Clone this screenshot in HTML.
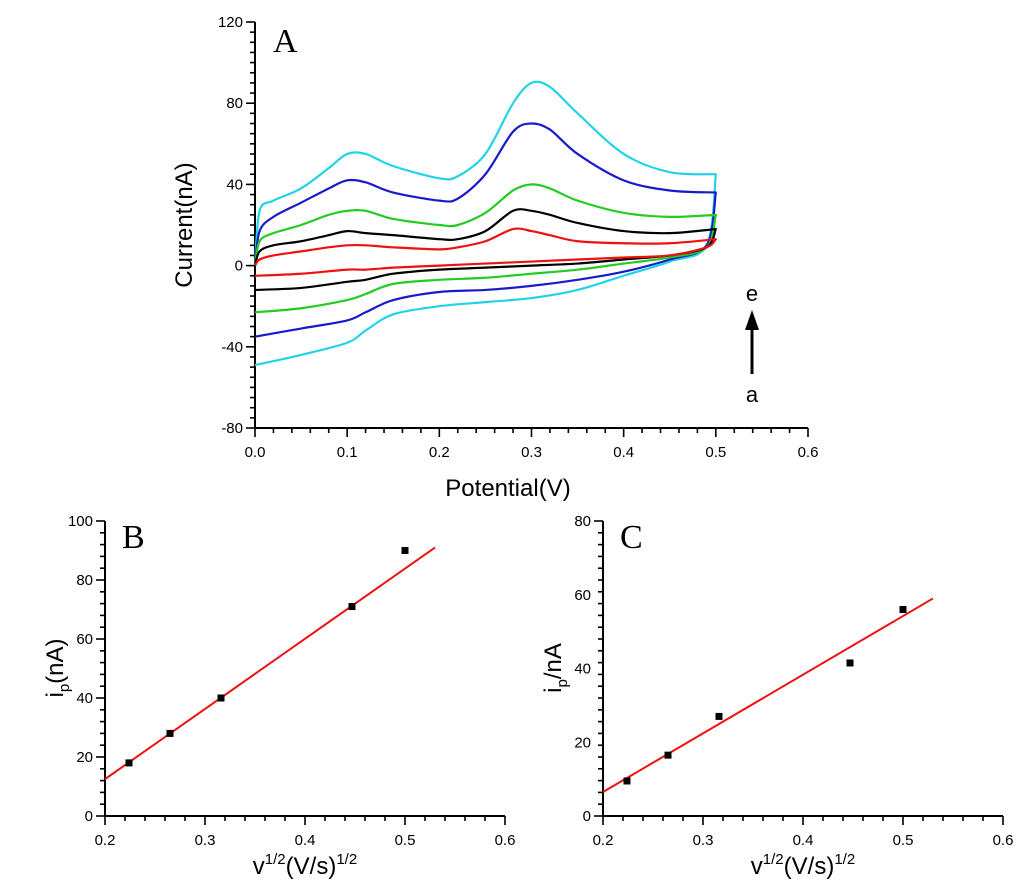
<!DOCTYPE html>
<html><head><meta charset="utf-8"><style>
body{margin:0;background:#fff;}
svg{display:block;font-family:"Liberation Sans",Arial,sans-serif;}
</style></head><body>
<svg id="fig" width="1024" height="893" viewBox="0 0 1024 893" xmlns="http://www.w3.org/2000/svg"></svg>
<script>
// ---- Panel A data ----
const fwdX=[0,0.005,0.02,0.05,0.08,0.1,0.12,0.15,0.2,0.22,0.25,0.28,0.3,0.32,0.35,0.4,0.45,0.5];
const revX=[0.5,0.49,0.45,0.4,0.35,0.3,0.25,0.2,0.15,0.12,0.1,0.05,0];
const cvNames=['e','d','c','b','a'];
const cvColors=['#22d3e6','#1a1acc','#22cc22','#000000','#ee1111'];
const cvFwd=[
[0,27,32,38,48,55,55,49,43,44,55,80,90,88,75,55,46,45],
[0,17,24,31,38,42,41,36,32,33,45,66,70,67,55,42,37,36],
[0,12,16,20,25,27,27,23,20,20,26,37,40,38,32,26,24,25],
[0,7,10,12,15,17,16,15,13,13,17,27,27,25,21,17,16,18],
[0,3,5,7,9,10,10,9,8,9,12,18,17,15,12,11,11,13]];
const cvRev=[
[45,10,2,-5,-12,-16,-18,-20,-24,-32,-38,-44,-49],
[36,10,3,-3,-7,-10,-12,-13,-17,-23,-27,-31,-35],
[25,9,4,1,-2,-4,-6,-7,-9,-14,-17,-21,-23],
[18,9,5,3,1,0,-1,-2,-4,-7,-8,-11,-12],
[13,9,5,4,3,2,1,0,-1,-2,-2,-4,-5]];
const aXTicks=[0,0.1,0.2,0.3,0.4,0.5,0.6];
const aYTicks=[-80,-40,0,40,80,120];
// ---- Panel B data ----
const bX=[0.224,0.265,0.316,0.447,0.5];
const bY=[18,28,40,71,90];
const bFit=[[0.2,12.5],[0.53,91]];
const bYTicks=[0,20,40,60,80,100];
// ---- Panel C data ----
const cX=[0.224,0.265,0.316,0.447,0.5];
const cY=[9.5,16.5,27,41.5,56];
const cFit=[[0.2,6.5],[0.53,59]];
const cYTicks=[0,20,40,60,80];
const bcXTicks=[0.2,0.3,0.4,0.5,0.6];

const NS='http://www.w3.org/2000/svg';
const svg=document.getElementById('fig');
function mk(tag,attrs,parent,text){const e=document.createElementNS(NS,tag);for(const k in attrs)e.setAttribute(k,attrs[k]);if(text!==undefined)e.textContent=text;(parent||svg).appendChild(e);return e;}
function lin(d0,d1,r0,r1){return v=>r0+(v-d0)/(d1-d0)*(r1-r0);}
function smooth(pts){
  let d='M'+pts[0][0]+','+pts[0][1];
  for(let i=0;i<pts.length-1;i++){
    const p0=pts[Math.max(0,i-1)],p1=pts[i],p2=pts[i+1],p3=pts[Math.min(pts.length-1,i+2)];
    const t=0.16;
    const c1=[p1[0]+(p2[0]-p0[0])*t,p1[1]+(p2[1]-p0[1])*t];
    const c2=[p2[0]-(p3[0]-p1[0])*t,p2[1]-(p3[1]-p1[1])*t];
    d+=' C'+c1.join(',')+' '+c2.join(',')+' '+p2.join(',');
  }
  return d;
}

function axes(g,sx,sy,x0,x1,y0,y1,xt,yt,xMinor,yMinor){
  const px0=sx(x0),px1=sx(x1),py0=sy(y0),py1=sy(y1);
  mk('line',{x1:px0,y1:py0,x2:px0,y2:py1,stroke:'#000','stroke-width':2},g);
  mk('line',{x1:px0,y1:py0,x2:px1,y2:py0,stroke:'#000','stroke-width':2},g);
  for(let v=x0;v<=x1+1e-9;v+=xMinor){const isM=xt.some(t=>Math.abs(t-v)<1e-6);mk('line',{x1:sx(v),y1:py0,x2:sx(v),y2:py0+(isM?9:5),stroke:'#000','stroke-width':1.6},g);}
  for(let v=y0;v<=y1+1e-9;v+=yMinor){const isM=yt.some(t=>Math.abs(t-v)<1e-6);mk('line',{x1:px0,y1:sy(v),x2:px0-(isM?9:5),y2:sy(v),stroke:'#000','stroke-width':1.6},g);}
  xt.forEach(t=>{const e=mk('text',{x:sx(t),y:py0+29,'font-size':15,'text-anchor':'middle'},g,t.toFixed(1));
    
    });
  yt.forEach(t=>{const e=mk('text',{x:px0-12,y:sy(t)+5,'font-size':15,'text-anchor':'end'},g,String(t));
    
    });
}

// Panel A
const gA=mk('g',{});
const ax=lin(0,0.6,255,808), ay=lin(-80,120,428,22);
axes(gA,ax,ay,0,0.6,-80,120,aXTicks,aYTicks,0.02,5);
cvFwd.forEach((f,i)=>{
  const up=fwdX.map((x,j)=>[ax(x),ay(f[j])]);
  const dn=revX.map((x,j)=>[ax(x),ay(cvRev[i][j])]);
  const p=mk('path',{d:smooth(up)+' '+smooth(dn).replace('M','L'),fill:'none',stroke:cvColors[i],'stroke-width':2.2,'stroke-linejoin':'round'},gA);
  
  
});
mk('text',{x:273,y:52,'font-size':34,'font-family':'Liberation Serif,serif'},gA,'A');
mk('text',{x:0,y:0,'font-size':24,'text-anchor':'middle',transform:'translate(192,225) rotate(-90)'},gA,'Current(nA)');
mk('text',{x:508,y:496,'font-size':24,'text-anchor':'middle'},gA,'Potential(V)');
mk('text',{x:752,y:301,'font-size':22,'text-anchor':'middle'},gA,'e');
mk('text',{x:752,y:402,'font-size':22,'text-anchor':'middle'},gA,'a');
mk('line',{x1:752,y1:374,x2:752,y2:325,stroke:'#000','stroke-width':3},gA);
mk('polygon',{points:'745,330 759,330 752,310',fill:'#000'},gA);

function scatterPanel(name,x0,fy1,xs,ys,fit,yt,letter,ytitle){
  const g=mk('g',{});
  const sx=lin(0.2,0.6,x0,x0+400), sy=lin(0,fy1,816,521);
  axes(g,sx,sy,0.2,0.6,0,fy1,bcXTicks,yt,0.02,fy1/25);
  const l=mk('line',{x1:sx(fit[0][0]),y1:sy(fit[0][1]),x2:sx(fit[1][0]),y2:sy(fit[1][1]),stroke:'#ee1111','stroke-width':2},g);
  
  
  xs.forEach((x,i)=>{const r=mk('rect',{x:sx(x)-3.5,y:sy(ys[i])-3.5,width:7,height:7,fill:'#000'},g);
    
    });
  mk('text',{x:x0+17,y:548,'font-size':34,'font-family':'Liberation Serif,serif'},g,letter);
  const t=mk('text',{x:0,y:0,'font-size':24,'text-anchor':'middle',transform:'translate('+(x0-42)+',668) rotate(-90)'},g);
  
  mk('tspan',{},t,'i');mk('tspan',{'font-size':15,dy:6},t,'p');mk('tspan',{dy:-6},t,ytitle);
  const xt=mk('text',{x:x0+200,y:874,'font-size':24,'text-anchor':'middle'},g);
  
  mk('tspan',{},xt,'v');mk('tspan',{'font-size':15,dy:-10},xt,'1/2');mk('tspan',{dy:10},xt,'(V/s)');mk('tspan',{'font-size':15,dy:-10},xt,'1/2');
}
scatterPanel('b',105,100,bX,bY,bFit,bYTicks,'B','(nA)');
scatterPanel('c',603,80,cX,cY,cFit,cYTicks,'C','/nA');
</script>
</body></html>
